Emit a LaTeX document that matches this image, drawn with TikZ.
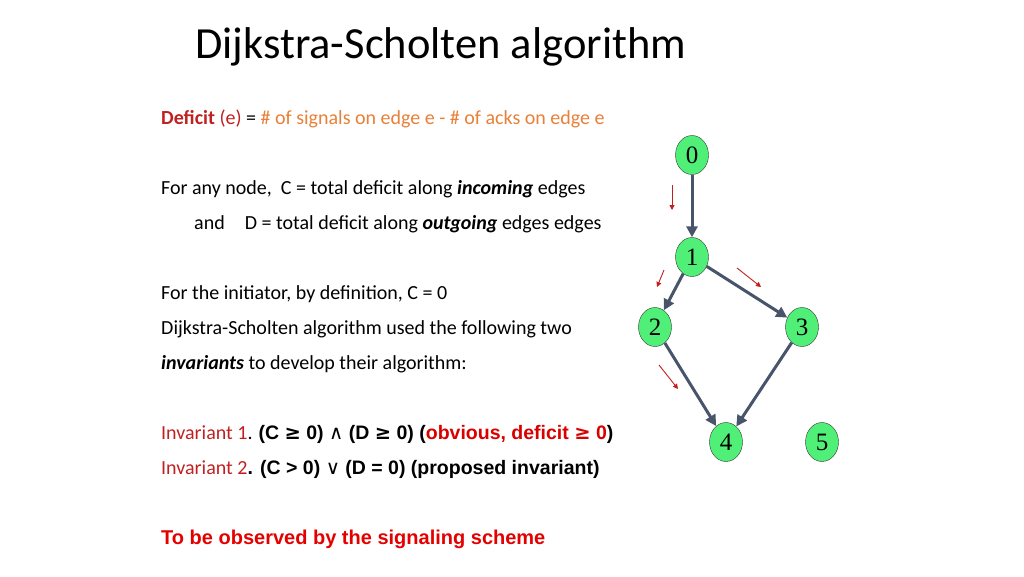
\documentclass[tikz,border=0pt]{standalone}
\usepackage{fontspec}
\setmainfont{Carlito}
\newfontfamily\arial{Liberation Sans}
\newfontfamily\tms{Liberation Serif}
\newfontfamily\dv{DejaVu Sans}
\usetikzlibrary{shapes.geometric,arrows.meta}
\definecolor{dred}{RGB}{192,32,32}
\definecolor{orng}{RGB}{232,128,56}
\definecolor{edg}{RGB}{72,84,106}
\definecolor{ngreen}{RGB}{80,240,120}
\begin{document}
\begin{tikzpicture}[x=1pt,y=-1pt,
 gn/.style={ellipse,draw=black!80,fill=ngreen,minimum width=33,minimum height=39,inner sep=0pt,font=\tms\fontsize{25}{25}\selectfont},
 ge/.style={draw=edg,line width=3,-{Triangle[length=11,width=11]}},
 sig/.style={draw=dred,line width=0.9,-{Triangle[length=5,width=5]}},
 txt/.style={anchor=west,inner sep=0pt,font=\fontsize{20}{20}\selectfont}]
\useasboundingbox (0,0) rectangle (1024,576);
\node[anchor=west,inner sep=0pt,font=\fontsize{44.5}{44.5}\selectfont] (title) at (195,47) {Dijkstra-Scholten algorithm};
\node[txt] (l1) at (161,119) {\textcolor{dred}{\textbf{Deficit} (e)} = \textcolor{orng}{\# of signals on edge e - \# of acks on edge e}};
\node[txt] (l2) at (161,189) {For any node,\ \ C = total deficit along \textbf{\textit{incoming}} edges};
\node[txt] (l3) at (194,224) {and\quad D = total deficit along \textbf{\textit{outgoing}} edges edges};
\node[txt] (l4) at (161,294) {For the initiator, by definition, C = 0};
\node[txt] (l5) at (161,329) {Dijkstra-Scholten algorithm used the following two};
\node[txt] (l6) at (161,364) {\textbf{\textit{invariants}} to develop their algorithm:};
\node[txt] (l7) at (161,434) {\textcolor{dred}{Invariant 1}. {\arial\bfseries\fontsize{19.5}{20}\selectfont (C {\dv ≥} 0) {\dv\mdseries ∧} (D {\dv ≥} 0) (\textcolor{red!85!black}{obvious, deficit {\dv ≥} 0})}};
\node[txt] (l8) at (161,469) {\textcolor{dred}{Invariant 2}{\arial\bfseries\fontsize{19.5}{20}\selectfont . (C > 0) {\dv\mdseries ∨} (D = 0) (proposed invariant)}};
\node[txt,font=\arial\bfseries\fontsize{20}{20}\selectfont,text=red!90!black] (l9) at (161,539) {To be observed by the signaling scheme};
\node[gn] (n0) at (692,155) {0};
\node[gn] (n1) at (692,257) {1};
\node[gn] (n2) at (655,327) {2};
\node[gn] (n3) at (802,327) {3};
\node[gn] (n4) at (726,442) {4};
\node[gn] (n5) at (822,442) {5};
\draw[ge] (n0) -- (n1);
\draw[ge] (n1) -- (n2);
\draw[ge] (n1) -- (n3);
\draw[ge] (n2) -- (n4);
\draw[ge] (n3) -- (n4);
\coordinate (a1) at (672,185); \coordinate (b1) at (672,210);
\coordinate (a2) at (664,270); \coordinate (b2) at (657,287);
\coordinate (a3) at (737,268); \coordinate (b3) at (761,287);
\coordinate (a4) at (659,365); \coordinate (b4) at (678,389);
\draw[sig] (a1) -- (b1);
\draw[sig] (a2) -- (b2);
\draw[sig] (a3) -- (b3);
\draw[sig] (a4) -- (b4);
\end{tikzpicture}
\end{document}
